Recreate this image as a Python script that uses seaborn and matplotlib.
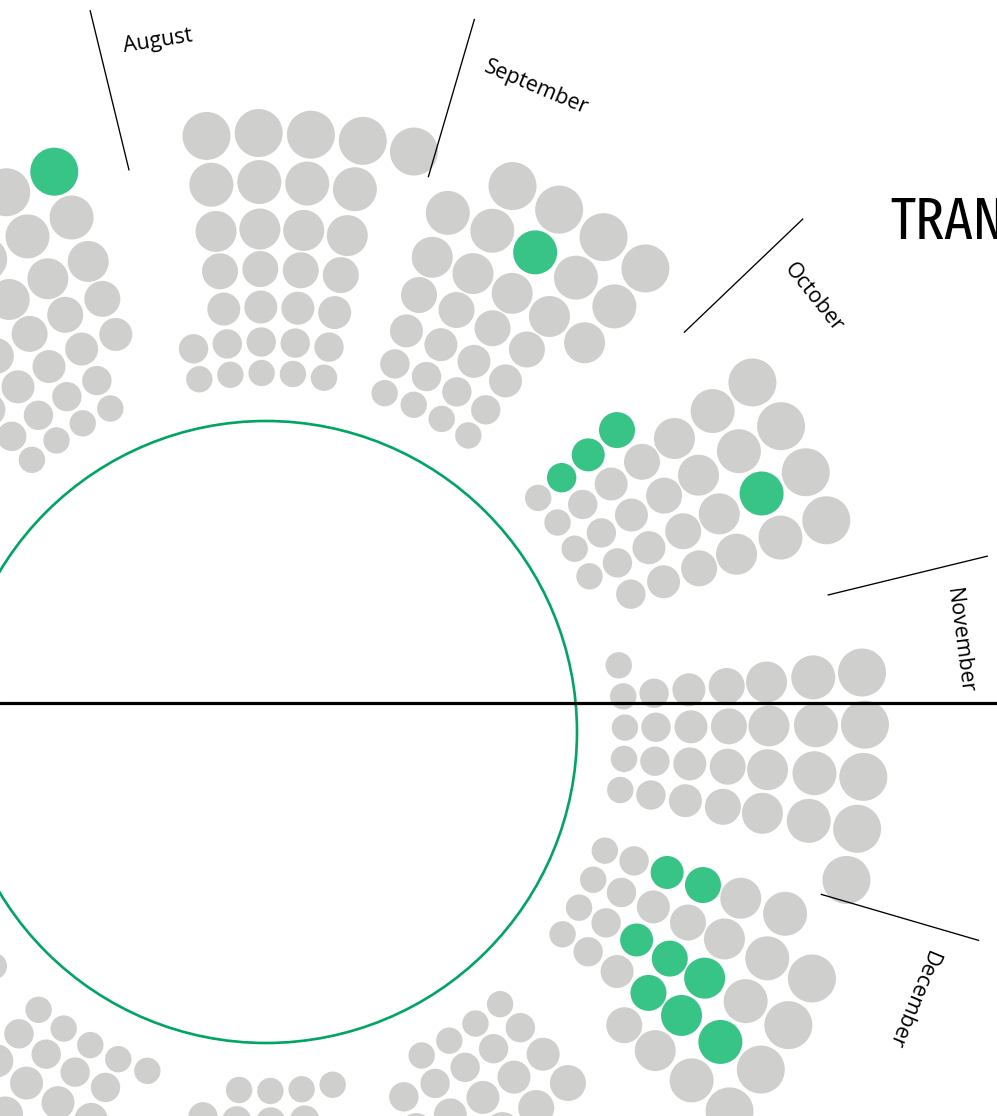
import numpy as np
import pandas as pd
import matplotlib
matplotlib.use("Agg")
import matplotlib.pyplot as plt
from matplotlib.patches import Circle
from matplotlib import font_manager
import seaborn as sns

# ---------------- data ----------------
months = ["January", "February", "March", "April", "May", "June",
          "July", "August", "September", "October", "November", "December"]
days_in_month = [31, 28, 31, 30, 31, 30, 31, 31, 30, 31, 30, 31]
# weekday slot of the 1st of each month (0 = outermost ring ... 6 = innermost ring)
first_weekday = [3, 6, 6, 2, 4, 0, 2, 5, 1, 3, 6, 1]
# highlighted (green) days per month
highlighted = [[], [], [], [], [], [],
               [27], [], [15], [1, 2, 3, 20], [], [3, 4, 16, 17, 18, 22, 23, 24]]
labelled_months = ["August", "September", "October", "November", "December"]
title_text = "TRANS"

# ---------------- layout ----------------
W, H = 997, 1116
cx, cy = 266, 732
ring_dist = [359, 390, 425, 463, 503, 550, 599]      # inner -> outer
ring_rad = [13.2, 14.7, 16.5, 18.0, 20.5, 22.0, 24.0]
aug_start = -13.7        # compass angle of the July/August divider
GRAY, GREEN, CIRCLE_GREEN = "#cfcfcd", "#38c487", "#00a463"

def month_start(m):
    return aug_start + 30 * (m - 7)

def polar(angle_deg, r):
    a = np.radians(angle_deg)
    return cx + r * np.sin(a), cy - r * np.cos(a)

rows = []
for m, (name, nd, fw, hl) in enumerate(zip(months, days_in_month, first_weekday, highlighted)):
    for d in range(1, nd + 1):
        idx = fw + d - 1
        slot, w = divmod(idx, 7)
        ring = 6 - w
        ang = month_start(m) + 3.0 + 5.0 * slot
        x, y = polar(ang, ring_dist[ring])
        px_r = ring_rad[ring]
        rows.append(dict(month=name, day=d, x=x, y=y,
                         status="event" if d in hl else "none",
                         s=(2 * px_r * 0.72) ** 2))
df = pd.DataFrame(rows)

sns.set_style("white")
plt.rcParams["font.family"] = ["Open Sans", "DejaVu Sans"]


def find_condensed_font():
    """Pick an installed condensed / narrow regular-weight font file, if any."""
    stretch_rank = {"ultra-condensed": 0, "extra-condensed": 0, "condensed": 1,
                    "semi-condensed": 3}
    best, best_key = None, None
    for f in font_manager.fontManager.ttflist:
        nm = f.name.lower()
        fn = f.fname.lower().replace("-", "").replace("_", "")
        st = str(f.stretch).lower()
        cond = None
        if "extracondensed" in fn or "extra condensed" in nm:
            cond = 0
        elif "narrow" in nm or "narrow" in fn:
            cond = 2
        elif "semicondensed" in fn or "semi condensed" in nm:
            cond = 3
        elif "condensed" in nm or "condensed" in fn:
            cond = 1
        elif st in stretch_rank:
            cond = stretch_rank[st]
        if cond is None:
            continue
        if "italic" in fn or "oblique" in fn or str(f.style) != "normal":
            continue
        base = fn.rsplit("/", 1)[-1]
        if any(k in base for k in ("bold", "black", "heavy", "semibold", "medium",
                                   "light", "thin")):
            wt = 700 if ("bold" in base or "black" in base or "heavy" in base) else 550
            if "light" in base or "thin" in base:
                wt = 250
        else:
            wt = f.weight if isinstance(f.weight, (int, float)) else 400
        key = (abs(wt - 400) > 60, cond, abs(wt - 400))
        if best_key is None or key < best_key:
            best, best_key = f.fname, key
    return best


fig = plt.figure(figsize=(W / 100, H / 100), dpi=100)
ax = fig.add_axes([0, 0, 1, 1])
ax.set_xlim(0, W)
ax.set_ylim(H, 0)
ax.axis("off")

sns.scatterplot(data=df, x="x", y="y", hue="status",
                palette={"none": GRAY, "event": GREEN},
                s=df["s"].to_numpy(), linewidth=0, legend=False, ax=ax, zorder=2)

# central circle
ax.add_patch(Circle((cx, cy), 311, fill=False, ec=CIRCLE_GREEN, lw=1.9, zorder=3))

# horizontal line
ax.axhline(703, color="black", lw=2.3, zorder=4)

# month dividers
for m in range(12):
    a = month_start(m)
    x0, y0 = polar(a, 578)
    x1, y1 = polar(a, 743)
    ax.plot([x0, x1], [y0, y1], color="black", lw=0.95, zorder=3,
            solid_capstyle="butt")

# month labels
fig.canvas.draw()
renderer = fig.canvas.get_renderer()
label_r = 699
LABEL_FS = 15.5
for m, name in enumerate(months):
    if name not in labelled_months:
        continue
    tmp = ax.text(0, 0, name, fontsize=LABEL_FS)
    wpx = tmp.get_window_extent(renderer).width
    tmp.remove()
    ang = month_start(m) + 1.9 + np.degrees(wpx / 2 / label_r)
    x, y = polar(ang, label_r)
    ax.text(x, y, name, fontsize=LABEL_FS, rotation=-ang, rotation_mode="anchor",
            ha="center", va="center", color="black", zorder=5)

# title fragment (condensed face, cut by the right edge as in the original)
cond_file = find_condensed_font()
if cond_file:
    fp = font_manager.FontProperties(fname=cond_file, size=42)
else:
    fp = font_manager.FontProperties(family=["DejaVu Sans"], stretch="condensed", size=36)
ax.text(890, 240, title_text, fontproperties=fp,
        ha="left", va="baseline", color="black", zorder=5)

fig.savefig("out.png", dpi=100)
